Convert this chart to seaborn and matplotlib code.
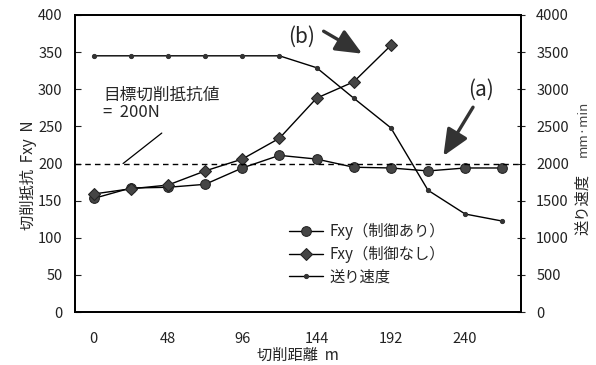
import matplotlib
matplotlib.use("Agg")
import matplotlib.pyplot as plt
import seaborn as sns
import pandas as pd

# cutting distance (m)
distance = [0, 24, 48, 72, 96, 120, 144, 168, 192, 216, 240, 264]
fxy_ctrl = [153, 167, 168, 172, 194, 211, 206, 195, 194, 190, 194, 194]
fxy_noctrl = [159, 166, 171, 190, 206, 234, 288, 310, 359]
feed_speed = [3450, 3450, 3450, 3450, 3450, 3450, 3290, 2880, 2480, 1640, 1320, 1225]
target = 200
xticks = [0, 48, 96, 144, 192, 240]

sns.set_style("white")
plt.rcParams['font.family'] = ['Noto Sans CJK JP', 'DejaVu Sans']

df1 = pd.DataFrame({"d": distance, "f": fxy_ctrl})
df2 = pd.DataFrame({"d": distance[:len(fxy_noctrl)], "f": fxy_noctrl})
df3 = pd.DataFrame({"d": distance, "v": feed_speed})

fig = plt.figure(figsize=(5.96, 3.65), dpi=100)
ax = fig.add_axes([0.126, 0.145, 0.748, 0.814])
ax2 = ax.twinx()

mk = "#454545"
sns.lineplot(data=df1, x="d", y="f", ax=ax, color="black", lw=1, marker="o",
             markersize=7, markerfacecolor=mk, markeredgecolor="#222222", label="Fxy（制御あり）")
sns.lineplot(data=df2, x="d", y="f", ax=ax, color="black", lw=1, marker="D",
             markersize=6, markerfacecolor=mk, markeredgecolor="#222222", label="Fxy（制御なし）")
sns.lineplot(data=df3, x="d", y="v", ax=ax2, color="black", lw=1, marker="o",
             markersize=3, markerfacecolor="#333333", markeredgecolor="#333333", label="送り速度")
ax.axhline(target, color="black", ls=(0, (4, 3)), lw=1)

ax.set_xlim(-12, 276)
ax.set_ylim(0, 400)
ax2.set_ylim(0, 4000)
ax.set_yticks(range(0, 401, 50))
ax2.set_yticks(range(0, 4001, 500))
ax.set_xticks(xticks)
ax.set_xticks([d + 12 for d in distance[:-1]], minor=True)
ax.tick_params(axis="x", which="major", length=0, labelsize=10.5, pad=14, colors="#222222")
ax.tick_params(axis="x", which="minor", direction="in", length=4, width=0.8)
ax.tick_params(axis="y", direction="in", length=4, width=0.8, labelsize=10.5, pad=9, colors="#222222")
ax2.tick_params(axis="y", direction="inout", length=6, width=0.8, labelsize=10.5, pad=8, colors="#222222")
ax.set_xlabel("")
ax.set_ylabel("")
ax2.set_ylabel("")
for a in (ax, ax2):
    for s in a.spines.values():
        s.set_color("black")
        s.set_linewidth(1.3)

# legend
h1, l1 = ax.get_legend_handles_labels()
h2, l2 = ax2.get_legend_handles_labels()
if ax2.legend_:
    ax2.legend_.remove()
ax.legend(h1 + h2, l1 + l2, loc="upper left", bbox_to_anchor=(0.45, 0.345), frameon=False,
          fontsize=11, handlelength=2.2, labelspacing=0.35, handletextpad=0.4)

# annotations
ax.text(6, 292, "目標切削抵抗値", fontsize=12, va="center")
ax.text(6, 269, "=  200N", fontsize=12, va="center")
ax.plot([19, 44], [200, 241], color="black", lw=0.9)
ax.text(134, 370, "(b)", fontsize=15, ha="center", va="center")
ax.annotate("", xy=(175, 346), xytext=(147, 380),
            arrowprops=dict(arrowstyle="-|>,head_length=1.6,head_width=0.7", color="#333333", lw=2.4))
ax.text(250, 299, "(a)", fontsize=15, ha="center", va="center")
ax.annotate("", xy=(225, 207), xytext=(246, 279),
            arrowprops=dict(arrowstyle="-|>,head_length=1.6,head_width=0.7", color="#333333", lw=2.4))

fig.text(0.047, 0.52, "切削抵抗  Fxy  N", rotation=90, ha="center", va="center", fontsize=11)
fig.text(0.978, 0.44, "送り速度", rotation=90, ha="center", va="center", fontsize=11)
fig.text(0.978, 0.647, "mm·min", rotation=90, ha="center", va="center", fontsize=9.5, color="#444444")
fig.text(0.5, 0.027, "切削距離  m", ha="center", va="center", fontsize=11)

fig.savefig("out.png", dpi=100)
